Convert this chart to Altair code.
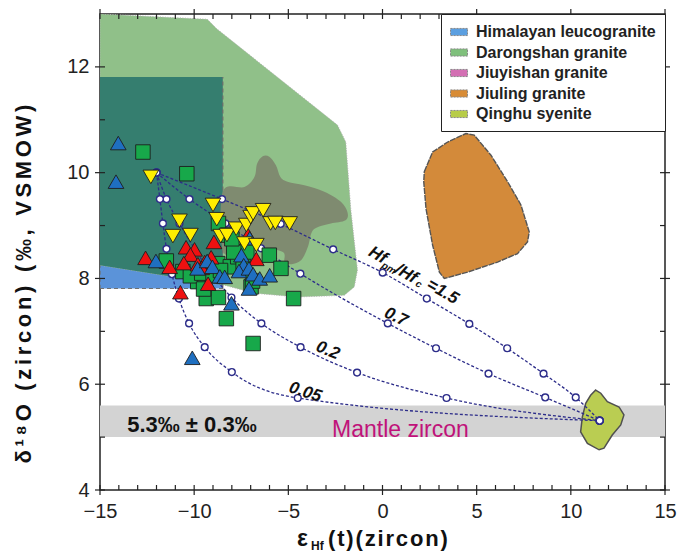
import altair as alt
import pandas as pd

W, H = 565, 476
XD = [-15, 15]
YD = [4, 13]
FONT = "Liberation Sans"
NAVY = "#2d2d8a"
HAIR = "\u200a"

# ---------------- legend ----------------
legend_names = ["Himalayan leucogranite", "Darongshan granite", "Jiuyishan granite",
                "Jiuling granite", "Qinghu syenite"]
legend_colors = ["#5b9fe0", "#7fc07c", "#d36fb3", "#d88c36", "#b7cc48"]

# ---------------- regions ----------------
him_x = [-15, -8.48, -8.48, -15]
him_y = [7.81, 7.81, 11.81, 11.81]

dar_x = [-15, -9.3, -8.8, -2.39, -1.95, -1.68, -1.33, -1.5, -2.03, -4.5, -6.8, -8.48, -15]
dar_y = [13.0, 12.9, 12.72, 10.9, 10.58, 9.29, 8.16, 7.84, 7.68, 7.65, 7.72, 7.88, 8.25]

overlap_x = [-15, -8.48, -8.48, -15]
overlap_y = [8.25, 7.88, 11.81, 11.81]

jiuy_x = [-8.48, -7.33, -6.80, -6.66, -6.36, -6.01, -5.66, -5.42, -5.04, -4.15, -3.09, -2.21,
          -1.86, -1.96, -2.74, -3.36, -3.75, -3.96, -4.31, -4.83, -5.20, -5.29, -6.41, -7.58, -8.48]
jiuy_y = [9.64, 9.73, 9.92, 10.17, 10.31, 10.30, 10.14, 9.92, 9.83, 9.76, 9.64, 9.45,
          9.25, 9.10, 9.04, 8.98, 8.88, 8.60, 8.35, 8.27, 8.31, 8.50, 8.57, 8.53, 8.53]

jiul_x = [2.22, 2.66, 3.46, 4.43, 4.87, 5.76, 6.64, 7.35, 7.79, 7.70, 7.17, 6.11, 4.52, 3.28,
          3.02, 2.66, 2.31, 2.19]
jiul_y = [10.02, 10.39, 10.58, 10.74, 10.71, 10.33, 9.83, 9.39, 8.88, 8.69, 8.47, 8.31, 8.12,
          8.00, 8.12, 8.63, 9.32, 9.83]

qing_x = [11.32, 11.59, 11.94, 12.56, 12.82, 12.65, 12.20, 11.76, 11.50, 10.88, 10.52, 10.61,
          10.79, 11.05]
qing_y = [5.89, 5.83, 5.67, 5.57, 5.42, 5.23, 5.04, 4.79, 4.76, 4.88, 5.10, 5.38, 5.64, 5.79]

band_x = [-15, 15]
band_y = [5.0, 5.6]

# ---------------- mixing curves ----------------
c15_x = [-12, -8.52, -5.41, -2.62, 0.01, 2.35, 4.61, 6.62, 8.55, 10.26, 11.53]
c15_y = [10, 9.5, 9.03, 8.55, 8.11, 7.62, 7.14, 6.68, 6.2, 5.75, 5.31]
c07_x = [-12, -10.25, -8.34, -6.45, -4.36, 0.28, 2.84, 5.63, 8.64, 11.53]
c07_y = [10, 9.5, 9.04, 8.57, 8.09, 7.15, 6.68, 6.2, 5.75, 5.31]
c02_x = [-12, -11.47, -10.78, -8.02, -6.43, -4.35, -1.35, 3.4, 11.53]
c02_y = [10, 9.5, 9.04, 7.64, 7.15, 6.7, 6.22, 5.74, 5.31]
c005_x = [-12, -11.82, -11.66, -11.47, -11.18, -10.81, -10.27, -9.44, -8.0, -4.5, 11.53]
c005_y = [10, 9.5, 9.04, 8.56, 8.08, 7.62, 7.15, 6.7, 6.23, 5.74, 5.31]

# ---------------- samples ----------------
blue_x = [-14.03, -14.15, -12.03, -9.82, -9.31, -9.03, -8.64, -8.38, -8.02, -7.49, -7.37, -7.62,
          -7.09, -6.87, -6.52, -5.99, -7.09, -7.05, -10.1]
blue_y = [10.56, 9.83, 8.33, 8.19, 8.33, 8.22, 8.04, 8.03, 7.53, 8.44, 8.25, 8.14,
          8.19, 8.08, 8.0, 8.06, 7.81, 8.76, 6.5]

green_x = [-12.72, -10.39, -8.71, -8.22, -11.48, -10.6, -9.81, -9.36, -8.71, -8.75, -8.08, -7.69,
           -6.98, -6.01, -5.39, -4.72, -6.87, -8.29, -10.2, -9.6, -9.0, -8.6, -7.4, -7.2, -7.9,
           -9.5, -6.9, -8.0]
green_y = [10.39, 9.98, 9.04, 8.82, 8.33, 8.13, 7.94, 7.62, 7.64, 8.28, 8.22, 8.41,
           7.84, 8.44, 8.19, 7.62, 6.77, 7.24, 8.05, 8.1, 8.05, 8.15, 8.3, 8.5, 8.5,
           7.8, 7.95, 8.75]

red_x = [-12.58, -11.3, -10.43, -9.98, -10.2, -10.55, -8.95, -9.8, -9.1, -9.44, -9.26, -10.73,
         -7.14, -6.7, -9.6]
red_y = [8.39, 8.22, 8.59, 8.55, 8.45, 8.29, 8.69, 8.27, 8.4, 8.31, 7.9, 7.74,
         8.82, 8.37, 8.2]

yellow_x = [-12.3, -9.0, -8.8, -10.78, -11.13, -10.2, -8.59, -8.26, -7.77, -7.23, -7.0, -6.87,
            -6.34, -5.94, -5.69, -4.93, -7.33, -6.7]
yellow_y = [9.92, 9.39, 9.12, 9.09, 8.8, 8.82, 8.8, 8.82, 8.94, 9.01, 9.16, 9.23,
            9.29, 9.04, 9.05, 9.04, 8.66, 8.63]

# ---------------- annotations ----------------
ann_text = ["Hf", "pm", "/Hf", "c", "=1.5", "0.7", "0.2", "0.05"]
ann_x = [-0.25, 0.33, 1.25, 1.92, 3.19, 0.72, -2.9, -4.1]
ann_y = [8.44, 8.19, 8.09, 7.89, 7.75, 7.27, 6.64, 5.85]
ann_angle = [30, 30, 30, 30, 30, 25, 22, 18]
ann_size = [17, 10, 17, 10, 17, 17, 17, 17]

x_major = [-15, -10, -5, 0, 5, 10, 15]
x_minor = [v for v in range(-15, 16) if v % 5 != 0]
y_major = [4, 6, 8, 10, 12]
y_minor = [5, 7, 9, 11]

x_axis = alt.Axis(values=x_major, ticks=False, domain=False, grid=False, title=None,
                  labelFontSize=20, labelFont=FONT, labelColor="#222", labelPadding=11,
                  labelFlush=False)
y_axis = alt.Axis(values=y_major, ticks=False, domain=False, grid=False, title=None,
                  labelFontSize=20, labelFont=FONT, labelColor="#222", labelPadding=11,
                  labelFlush=False)


def X(f):
    return alt.X(f"{f}:Q", scale=alt.Scale(domain=XD, nice=False, zero=False), axis=x_axis)


def Y(f):
    return alt.Y(f"{f}:Q", scale=alt.Scale(domain=YD, nice=False, zero=False), axis=y_axis)


def poly(xs, ys, fill, stroke=None, dash=None, sw=1.0, interp="linear-closed"):
    df = pd.DataFrame({"x": xs, "y": ys, "i": list(range(len(xs)))})
    kw = dict(filled=True, fill=fill, interpolate=interp, clip=True, strokeWidth=sw)
    if stroke:
        kw["stroke"] = stroke
    else:
        kw["strokeOpacity"] = 0
    if dash:
        kw["strokeDash"] = dash
    return alt.Chart(df).mark_line(**kw).encode(x=X("x"), y=Y("y"), order="i:Q")


layers = []

# mantle band
band_df = pd.DataFrame({"x1": [band_x[0]], "x2": [band_x[1]], "y1": [band_y[0]], "y2": [band_y[1]]})
layers.append(alt.Chart(band_df).mark_rect(color="#d3d3d3").encode(
    x=X("x1"), x2="x2:Q", y=Y("y1"), y2="y2:Q"))

layers.append(poly(him_x, him_y, "#5b93d9", "#707070", [4, 3], 1.2))
layers.append(poly(dar_x, dar_y, "#90c089", "#b0b0b0", [1, 1.5], 1.0))
layers.append(poly(overlap_x, overlap_y, "#357e6f"))
layers.append(poly(him_x[1:3], him_y[1:3], "none", "#6a6a6a", [4, 3], 1.2, interp="linear"))
layers.append(poly(jiuy_x, jiuy_y, "#7f8b70", interp="cardinal-closed"))
layers.append(poly(jiul_x, jiul_y, "#d38a3a", "#555555", [6, 1], 1.4))
layers.append(poly(qing_x, qing_y, "#bacd52", "#505050", None, 1.5))

# legend (dummy, clipped out of view)
leg_df = pd.DataFrame({"name": legend_names})
layers.append(alt.Chart(leg_df).mark_square(clip=True, opacity=1, stroke="#888", strokeDash=[2, 1],
                                            strokeWidth=1).encode(
    x=alt.value(-2000), y=alt.value(-2000),
    color=alt.Color("name:N", scale=alt.Scale(domain=legend_names, range=legend_colors),
                    legend=alt.Legend(title=None, orient="top-right", offset=0,
                                      symbolType="M-1,-0.42H1V0.42H-1Z", symbolSize=289,
                                      labelFontSize=16, labelFontWeight="bold", labelFont=FONT,
                                      labelColor="#222", strokeColor="#222", fillColor="white",
                                      padding=9, rowPadding=3.5, labelOffset=8, labelLimit=300,
                                      symbolStrokeColor="#888", symbolStrokeWidth=1,
                                      symbolDash=[2, 1], symbolOpacity=1))))

# curves
cur_rows = []
for cid, xs, ys in [("1.5", c15_x, c15_y), ("0.7", c07_x, c07_y), ("0.2", c02_x, c02_y),
                    ("0.05", c005_x, c005_y)]:
    for i, (a, b) in enumerate(zip(xs, ys)):
        cur_rows.append({"c": cid, "i": i, "x": a, "y": b})
cur_df = pd.DataFrame(cur_rows)
layers.append(alt.Chart(cur_df).mark_line(strokeDash=[3, 2], color=NAVY, strokeWidth=1.3,
                                          interpolate="monotone").encode(
    x=X("x"), y=Y("y"), detail="c:N", order="i:Q"))
layers.append(alt.Chart(cur_df).mark_point(shape="circle", filled=True, fill="white", stroke=NAVY,
                                           strokeWidth=1.4, size=46, opacity=1).encode(
    x=X("x"), y=Y("y")))


def markers(xs, ys, shape, fill, size):
    df = pd.DataFrame({"x": xs, "y": ys})
    return alt.Chart(df).mark_point(shape=shape, filled=True, fill=fill, stroke="#1e1e1e",
                                    strokeWidth=0.9, size=size, opacity=1).encode(
        x=X("x"), y=Y("y"))


layers.append(markers(green_x, green_y, "square", "#17a84a", 210))
layers.append(markers(red_x, red_y, "triangle-up", "#ee1111", 245))
layers.append(markers(blue_x, blue_y, "triangle-up", "#1f6fc0", 245))
layers.append(markers(yellow_x, yellow_y, "triangle-down", "#ffee00", 245))

# annotations on curves
ann_df = pd.DataFrame({"t": ann_text, "x": ann_x, "y": ann_y, "a": ann_angle, "s": ann_size})
layers.append(alt.Chart(ann_df).mark_text(fontWeight="bold", fontStyle="italic", font=FONT,
                                          color="#111", align="center", baseline="middle").encode(
    x=X("x"), y=Y("y"), text="t:N", angle=alt.Angle("a:Q", scale=None),
    size=alt.Size("s:Q", scale=None, legend=None)))

# band texts
bt_df = pd.DataFrame({"t": ["5.3‰ ± 0.3‰"], "x": [-10.12], "y": [5.22]})
layers.append(alt.Chart(bt_df).mark_text(fontWeight="bold", font=FONT, fontSize=22, color="#111",
                                         align="center", baseline="middle").encode(
    x=X("x"), y=Y("y"), text="t:N"))
mz_df = pd.DataFrame({"t": ["Mantle zircon"], "x": [0.95], "y": [5.13]})
layers.append(alt.Chart(mz_df).mark_text(font=FONT, fontSize=23, color="#c0127a",
                                         align="center", baseline="middle").encode(
    x=X("x"), y=Y("y"), text="t:N"))


# tick marks (rules drawn through the scales)
def xticks(vals, y1, y2):
    df = pd.DataFrame({"v": vals})
    return alt.Chart(df).mark_rule(color="#222", strokeWidth=1.2).encode(
        x=X("v"), y=alt.value(y1), y2=alt.value(y2))


def yticks(vals, x1, x2):
    df = pd.DataFrame({"v": vals})
    return alt.Chart(df).mark_rule(color="#222", strokeWidth=1.2).encode(
        y=Y("v"), x=alt.value(x1), x2=alt.value(x2))


layers += [xticks(x_major, H - 5, H + 5), xticks(x_major, -5, 5),
           xticks(x_minor, H - 5, H), xticks(x_minor, 0, 5),
           yticks(y_major, -5, 5), yticks(y_major, W - 5, W + 5),
           yticks(y_minor, 0, 5), yticks(y_minor, W - 5, W)]


# axis titles as text
def ptext(t, x, y, size, angle=0, align="left"):
    df = pd.DataFrame({"t": [t]})
    return alt.Chart(df).mark_text(font=FONT, fontWeight="bold", fontSize=size, color="#111",
                                   align=align, baseline="alphabetic", angle=angle).encode(
        text="t:N", x=alt.value(x), y=alt.value(y))


def spaced(s, sep):
    return sep.join(list(s))


layers.append(ptext("ε", 197, H + 56, 23))
layers.append(ptext("Hf", 211, H + 60, 12))
layers.append(ptext(spaced("(t)(zircon)", HAIR), 228, H + 56, 22))
yt_df = pd.DataFrame({"t": [spaced("δ¹⁸O (zircon) (‰, VSMOW)", HAIR * 2)]})
layers.append(alt.Chart(yt_df).mark_text(font=FONT, fontWeight="bold", fontSize=22, color="#111",
                                         align="center", baseline="middle", angle=270).encode(
    text="t:N", x=alt.value(-76), y=alt.value(270)))

chart = alt.layer(*layers).properties(
    width=W, height=H,
    autosize=alt.AutoSizeParams(type="none"),
    padding={"left": 92, "top": 6, "right": 15, "bottom": 63},
).configure_view(stroke="#222", strokeWidth=1.5)

chart.save("out.html", embed_options={"renderer": "svg", "actions": False})
